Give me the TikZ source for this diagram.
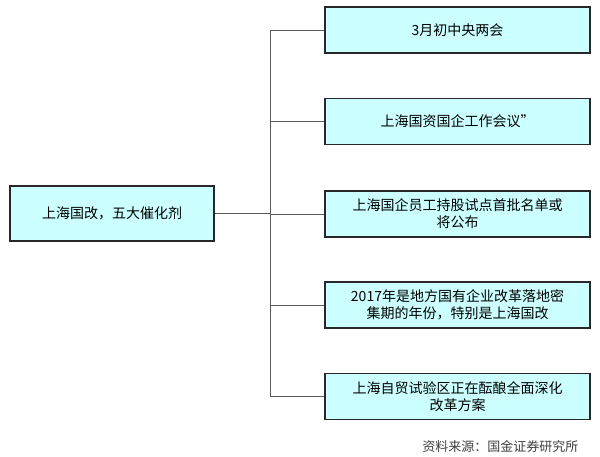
\documentclass[tikz,border=0pt]{standalone}
\usepackage{fontspec}
\setmainfont{Liberation Sans}
\newfontfamily\cjk{Noto Sans CJK SC}
\usetikzlibrary{positioning}
\definecolor{boxfill}{RGB}{204,255,255}
\definecolor{boxline}{RGB}{40,40,40}
\definecolor{linkgray}{RGB}{90,90,90}

\begin{document}
\begin{tikzpicture}[x=1pt,y=-1pt,
  topic/.style={draw=boxline,line width=1.3pt,fill=boxfill,minimum width=204pt,minimum height=55pt,align=center,font=\cjk\fontsize{14}{18}\selectfont},
  item/.style={draw=boxline,line width=1.3pt,fill=boxfill,minimum width=265pt,minimum height=46pt,inner sep=1pt,align=center,font=\cjk\fontsize{14}{17}\selectfont},
  link/.style={draw=linkgray,line width=0.8pt}]
  \useasboundingbox (0,0) rectangle (600,457);
  \node[topic] (Root)  at (112,213.5) {上海国改，五大催化剂};
  \node[item]  (Meet)  at (457.5,30)  {3月初中央两会};
  \node[item]  (Work)  at (457.5,121.5) {上海国资国企工作会议”};
  \node[item]  (Stock) at (457.5,214) {上海国企员工持股试点首批名单或\\将公布};
  \node[item]  (Year)  at (457.5,305) {2017年是地方国有企业改革落地密\\集期的年份，特别是上海国改};
  \node[item]  (Zone)  at (457.5,396.5) {上海自贸试验区正在酝酿全面深化\\改革方案};
  \coordinate (Hub) at (270,213.5);
  \draw[link] (Root.east) -- (Hub);
  \foreach \b in {Meet,Work,Stock,Year,Zone}
    \draw[link] (Hub) |- (\b.west);
  \node[anchor=east,font=\cjk\fontsize{13}{15}\selectfont,text=black!75] (Src) at (582,447) {资料来源：国金证券研究所};
\end{tikzpicture}
\end{document}
